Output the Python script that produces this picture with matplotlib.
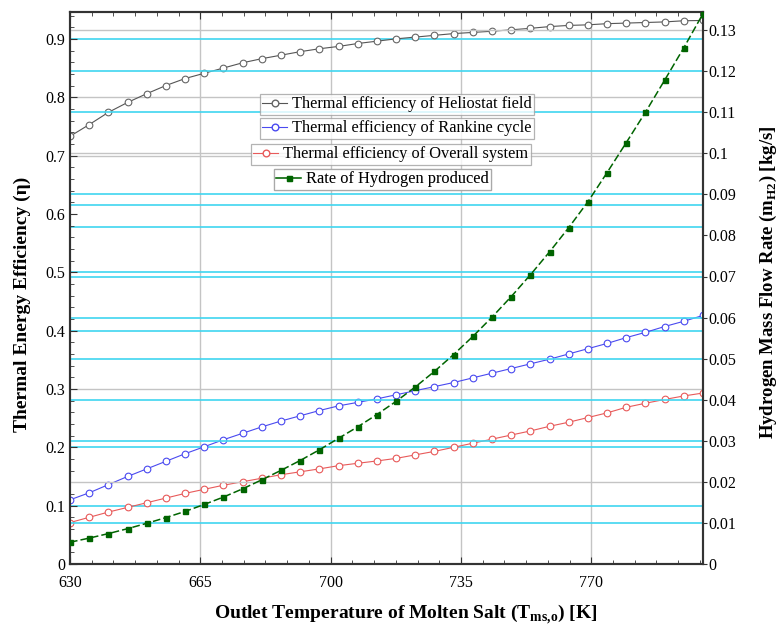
import matplotlib
matplotlib.use("Agg")
import matplotlib.pyplot as plt
from matplotlib.lines import Line2D
import numpy as np

plt.rcParams["font.family"] = ["Liberation Serif", "DejaVu Serif"]
plt.rcParams["mathtext.fontset"] = "custom"
plt.rcParams["mathtext.rm"] = "Liberation Serif"
plt.rcParams["mathtext.bf"] = "Liberation Serif:bold"

# outlet temperature of molten salt [K]
temps = np.linspace(630, 800, 34)

heliostat = [0.733, 0.753, 0.774, 0.791, 0.806, 0.820, 0.832, 0.841, 0.850, 0.859,
             0.866, 0.872, 0.878, 0.883, 0.887, 0.892, 0.896, 0.900, 0.903, 0.906,
             0.909, 0.911, 0.913, 0.9155, 0.918, 0.921, 0.923, 0.924, 0.926, 0.927,
             0.928, 0.929, 0.931, 0.9315]
rankine = [0.110, 0.122, 0.136, 0.150, 0.163, 0.176, 0.189, 0.201, 0.213, 0.224,
           0.235, 0.245, 0.254, 0.263, 0.271, 0.277, 0.283, 0.290, 0.297, 0.304,
           0.311, 0.319, 0.327, 0.335, 0.343, 0.351, 0.360, 0.369, 0.378, 0.388,
           0.397, 0.407, 0.416, 0.426]
overall = [0.071, 0.080, 0.089, 0.097, 0.105, 0.113, 0.121, 0.128, 0.135, 0.141,
           0.147, 0.153, 0.158, 0.163, 0.1685, 0.1726, 0.1766, 0.181, 0.187, 0.193,
           0.200, 0.207, 0.214, 0.221, 0.228, 0.236, 0.243, 0.251, 0.259, 0.2686,
           0.2755, 0.282, 0.288, 0.293]
hydrogen = [0.0053, 0.0063, 0.0074, 0.0086, 0.0099, 0.0113, 0.0128, 0.0145, 0.0163, 0.0183,
            0.0205, 0.0228, 0.0252, 0.0278, 0.0306, 0.0334, 0.0364, 0.0396, 0.0431, 0.0469,
            0.0510, 0.0554, 0.0601, 0.0651, 0.0704, 0.0760, 0.0819, 0.0882, 0.0953, 0.1026,
            0.1100, 0.1178, 0.1257, 0.1340]

labels = ["Thermal efficiency of Heliostat field",
          "Thermal efficiency of Rankine cycle",
          "Thermal efficiency of Overall system",
          "Rate of Hydrogen produced"]

W, H = 783, 630
fig = plt.figure(figsize=(W / 100, H / 100), dpi=100)
ax = fig.add_axes([70 / W, 66 / H, 633 / W, 552 / H])
ax2 = ax.twinx()

ax.set_xlim(630, 800)
ax.set_ylim(0, 0.946)
ax2.set_ylim(0, 0.1344)

# grid: grey and cyan lines
grey = "#c4c4c4"
cyan = "#3fd6f0"
for x in [665, 700, 735, 770]:
    ax.axvline(x, color=grey, lw=1.0, zorder=0)
for y in [0.8, 0.7, 0.3]:
    ax.axhline(y, color=grey, lw=1.0, zorder=0)
for y in [0.13, 0.10, 0.02]:
    ax2.axhline(y, color=grey, lw=1.0, zorder=0)
for y in [0.9, 0.615, 0.578, 0.5, 0.4, 0.2, 0.1]:
    ax.axhline(y, color=cyan, lw=1.2, zorder=0)
for y in [0.12, 0.11, 0.09, 0.07, 0.06, 0.05, 0.04, 0.03, 0.01]:
    ax2.axhline(y, color=cyan, lw=1.2, zorder=0)

ax.plot(temps, heliostat, color="#555555", lw=0.8, marker="o", ms=4.8,
        mfc="white", mec="#666666", mew=0.8, zorder=3)
ax.plot(temps, rankine, color="#4a4af0", lw=0.8, marker="o", ms=4.8,
        mfc="white", mec="#4a4af0", mew=0.8, zorder=3)
ax.plot(temps, overall, color="#e85a5a", lw=0.8, marker="o", ms=4.8,
        mfc="white", mec="#e85a5a", mew=0.8, zorder=3)
ax2.plot(temps, hydrogen, color="#006400", lw=1.1, dashes=(5, 2), marker="s", ms=3.6,
         mfc="#006400", mec="#006400", zorder=3)

ax.set_zorder(ax2.get_zorder() - 1)
ax2.patch.set_visible(False)

# ticks
ax.set_xticks([630, 665, 700, 735, 770])
ax.set_xticks(np.arange(630, 801, 35 / 6), minor=True)
ax.set_yticks(np.arange(0, 0.91, 0.1))
ax.set_yticklabels(["0"] + [f"{v:.1f}" for v in np.arange(0.1, 0.91, 0.1)])
ax.set_yticks(np.arange(0, 0.946, 0.02), minor=True)
ax.tick_params(axis="both", which="both", direction="in", top=True, labelsize=11.5,
               color="#333333")
ax.tick_params(which="major", length=5)
ax.tick_params(which="minor", length=3)
ax.tick_params(axis="x", pad=8)
ax.tick_params(axis="y", right=False)

ax2.set_yticks(np.arange(0, 0.131, 0.01))
ax2.set_yticklabels(["0"] + [f"{v:.2f}".rstrip("0") for v in np.arange(0.01, 0.131, 0.01)])
ax2.tick_params(axis="y", direction="out", length=3, pad=1, labelsize=11.5, color="#333333")

for a in (ax, ax2):
    for s in a.spines.values():
        s.set_color("#333333")
        s.set_linewidth(1.5)

ax.set_xlabel(r"Outlet Temperature of Molten Salt (T$_{\mathbf{ms{,}o}}$) [K]",
              fontsize=14, fontweight="bold")
ax.xaxis.set_label_coords(0.53, -0.07)
ax.set_ylabel("Thermal Energy Efficiency (η)", fontsize=14, fontweight="bold")
ax.yaxis.set_label_coords(-0.062, 0.47)
ax2.set_ylabel(r"Hydrogen Mass Flow Rate (m$_{\mathbf{H2}}$) [kg/s]",
               fontsize=13.5, fontweight="bold", rotation=90)
ax2.yaxis.set_label_coords(1.087, 0.51)

# four separate legend boxes
handles = [
    Line2D([], [], color="#555555", lw=0.8, marker="o", ms=4.8, mfc="white", mec="#666666"),
    Line2D([], [], color="#4a4af0", lw=0.8, marker="o", ms=4.8, mfc="white", mec="#4a4af0"),
    Line2D([], [], color="#e85a5a", lw=0.8, marker="o", ms=4.8, mfc="white", mec="#e85a5a"),
    Line2D([], [], color="#006400", lw=1.1, marker="s", ms=3.6, mfc="#006400", mec="#006400"),
]
corners = [(260, 94), (260, 118), (251, 144), (274, 169)]
for h, lab, (px, py) in zip(handles, labels, corners):
    leg = ax2.legend([h], [lab], loc="upper left",
                     bbox_to_anchor=(px / W, 1 - py / H), bbox_transform=fig.transFigure,
                     borderaxespad=0, fontsize=11.8, frameon=True, fancybox=False,
                     borderpad=0.15, handlelength=1.5, handletextpad=0.3)
    leg.get_frame().set_edgecolor("#a0a0a0")
    leg.get_frame().set_linewidth(0.9)
    leg.set_zorder(10)
    ax2.add_artist(leg)

fig.savefig("out.png", dpi=100)
